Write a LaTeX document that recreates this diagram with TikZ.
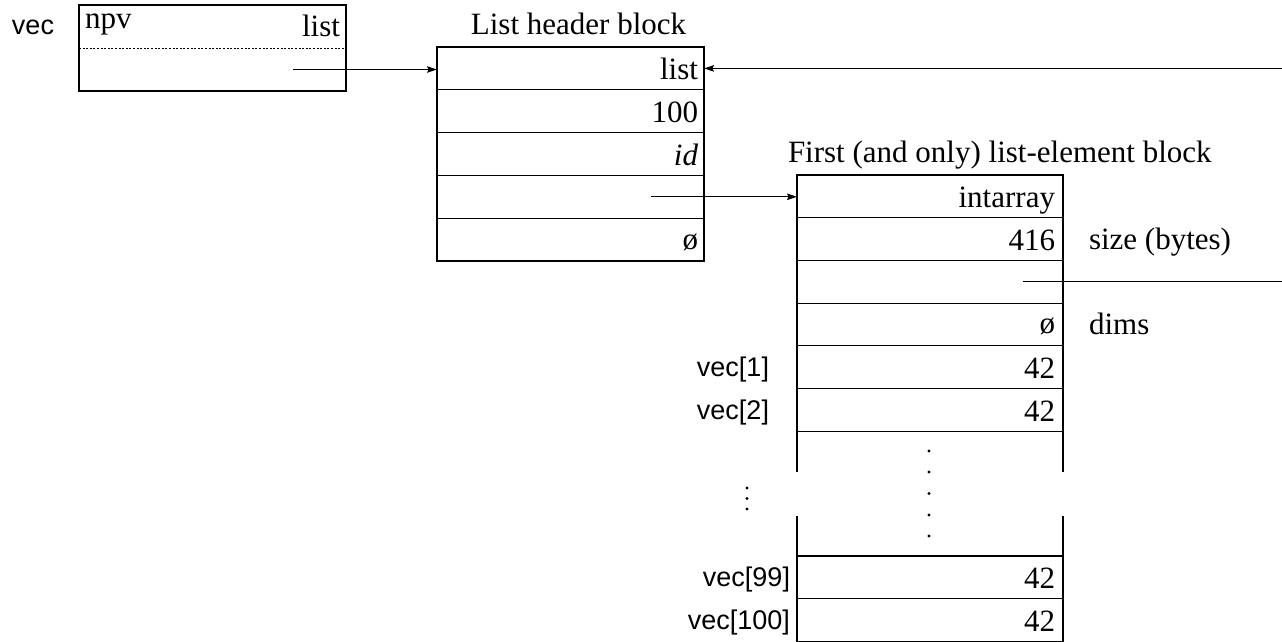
\documentclass[tikz,border=0pt]{standalone}
\usepackage{fontspec}
\setmainfont{Liberation Serif}
\setsansfont{Liberation Sans}
\usetikzlibrary{arrows.meta,calc}

\begin{document}
\begin{tikzpicture}[x=1pt,y=-1pt,
  every node/.style={inner sep=0pt, outer sep=0pt},
  hcell/.style={draw, line width=1.1pt, minimum width=267pt, minimum height=42.8pt, anchor=north west},
  ecell/.style={draw, line width=1.1pt, minimum width=266pt, minimum height=42.7pt, anchor=north west},
  val/.style={font=\fontsize{31}{36}\selectfont, anchor=base east},
  lbl/.style={font=\fontsize{31}{36}\selectfont},
  sans/.style={font=\sffamily\fontsize{27}{32}\selectfont},
  ptr/.style={line width=1.1pt, -{Stealth[length=10pt,width=6.5pt,inset=1.5pt]}},
  wire/.style={line width=1.1pt},
  divider/.style={line width=0.8pt, dash pattern=on 2pt off 1.6pt}]

\useasboundingbox (0,0) rectangle (1282,642);

% the variable vec and its two-word descriptor
\node[sans, anchor=base west] (vlab) at (12,35) {vec};
\node[draw, line width=1.1pt, minimum width=267pt, minimum height=86pt, anchor=north west] (npv) at (79,5) {};
\draw[divider] (npv.west) -- (npv.east);
\node[lbl, anchor=base west] (npvt) at ($(npv.north west)+(6,24)$) {npv};
\node[lbl, anchor=base east] (npvl) at ($(npv.north east)+(-6,32)$) {list};

% list header block
\node[hcell] (h1) at (437,47) {};
\node[hcell] (h2) at (h1.south west) {};
\node[hcell] (h3) at (h2.south west) {};
\node[hcell] (h4) at (h3.south west) {};
\node[hcell] (h5) at (h4.south west) {};
\node[lbl, anchor=base] (htitle) at ($(h1.north)+(8,-12)$) {List header block};
\node[val] (hv1) at ($(h1.south east)+(-6,-10)$) {list};
\node[val] (hv2) at ($(h2.south east)+(-6,-10)$) {100};
\node[val] (hv3) at ($(h3.south east)+(-6,-10)$) {\itshape id};
\node[val] (hv5) at ($(h5.south east)+(-6,-12)$) {ø};

% list-element block
\node[ecell] (e1) at (797,175) {};
\node[ecell] (e2) at (e1.south west) {};
\node[ecell] (e3) at (e2.south west) {};
\node[ecell] (e4) at (e3.south west) {};
\node[ecell] (e5) at (e4.south west) {};
\node[ecell] (e6) at (e5.south west) {};
\node[ecell] (e7) at (797,556) {};
\node[ecell] (e8) at (e7.south west) {};
\node[lbl, anchor=base west] (etitle) at ($(e1.north west)+(-9,-13)$) {First (and only) list-element block};
\node[val] (ev1) at ($(e1.south east)+(-8,-10)$) {intarray};
\node[val] (ev2) at ($(e2.south east)+(-8,-10)$) {416};
\node[val] (ev4) at ($(e4.south east)+(-8,-12)$) {ø};
\node[val] (ev5) at ($(e5.south east)+(-8,-10)$) {42};
\node[val] (ev6) at ($(e6.south east)+(-8,-10)$) {42};
\node[val] (ev7) at ($(e7.south east)+(-8,-10)$) {42};
\node[val] (ev8) at ($(e8.south east)+(-8,-10)$) {42};
\node[lbl, anchor=base west] (size) at ($(e2.south east)+(26,-11)$) {size (bytes)};
\node[lbl, anchor=base west] (dims) at ($(e4.south east)+(26,-11)$) {dims};

% open middle section of the element block
\draw[wire] (e6.south west) -- ++(0,41);
\draw[wire] (e6.south east) -- ++(0,41);
\draw[wire] (e7.north west) -- ++(0,-40);
\draw[wire] (e7.north east) -- ++(0,-40);
\foreach \yy in {451,472,493.5,515,536} \fill (929,\yy) circle (1.7);

% element labels
\node[sans, anchor=base east] (i1) at ($(e5.south west)+(-28,-12)$) {vec[1]};
\node[sans, anchor=base east] (i2) at ($(e6.south west)+(-28,-12)$) {vec[2]};
\foreach \yy in {488,498.5,509} \fill (747,\yy) circle (1.7);
\node[sans, anchor=base east] (i99) at ($(e7.south west)+(-7,-12)$) {vec[99]};
\node[sans, anchor=base east] (i100) at ($(e8.south west)+(-7,-12)$) {vec[100]};

% pointers
\coordinate (p1) at ($(npv.south east)+(-53,-21.5)$);
\draw[ptr] (p1) -- (p1 -| h1.west);
\coordinate (r1) at (1282,0);
\draw[ptr] (h1.east -| r1) -- (h1.east);
\coordinate (p2) at ($(h4.east)+(-53,0)$);
\draw[ptr] (p2) -- (p2 -| e1.west);
\coordinate (p3) at ($(e3.east)+(-40,0)$);
\draw[wire] (p3) -- (p3 -| r1);
\end{tikzpicture}
\end{document}
